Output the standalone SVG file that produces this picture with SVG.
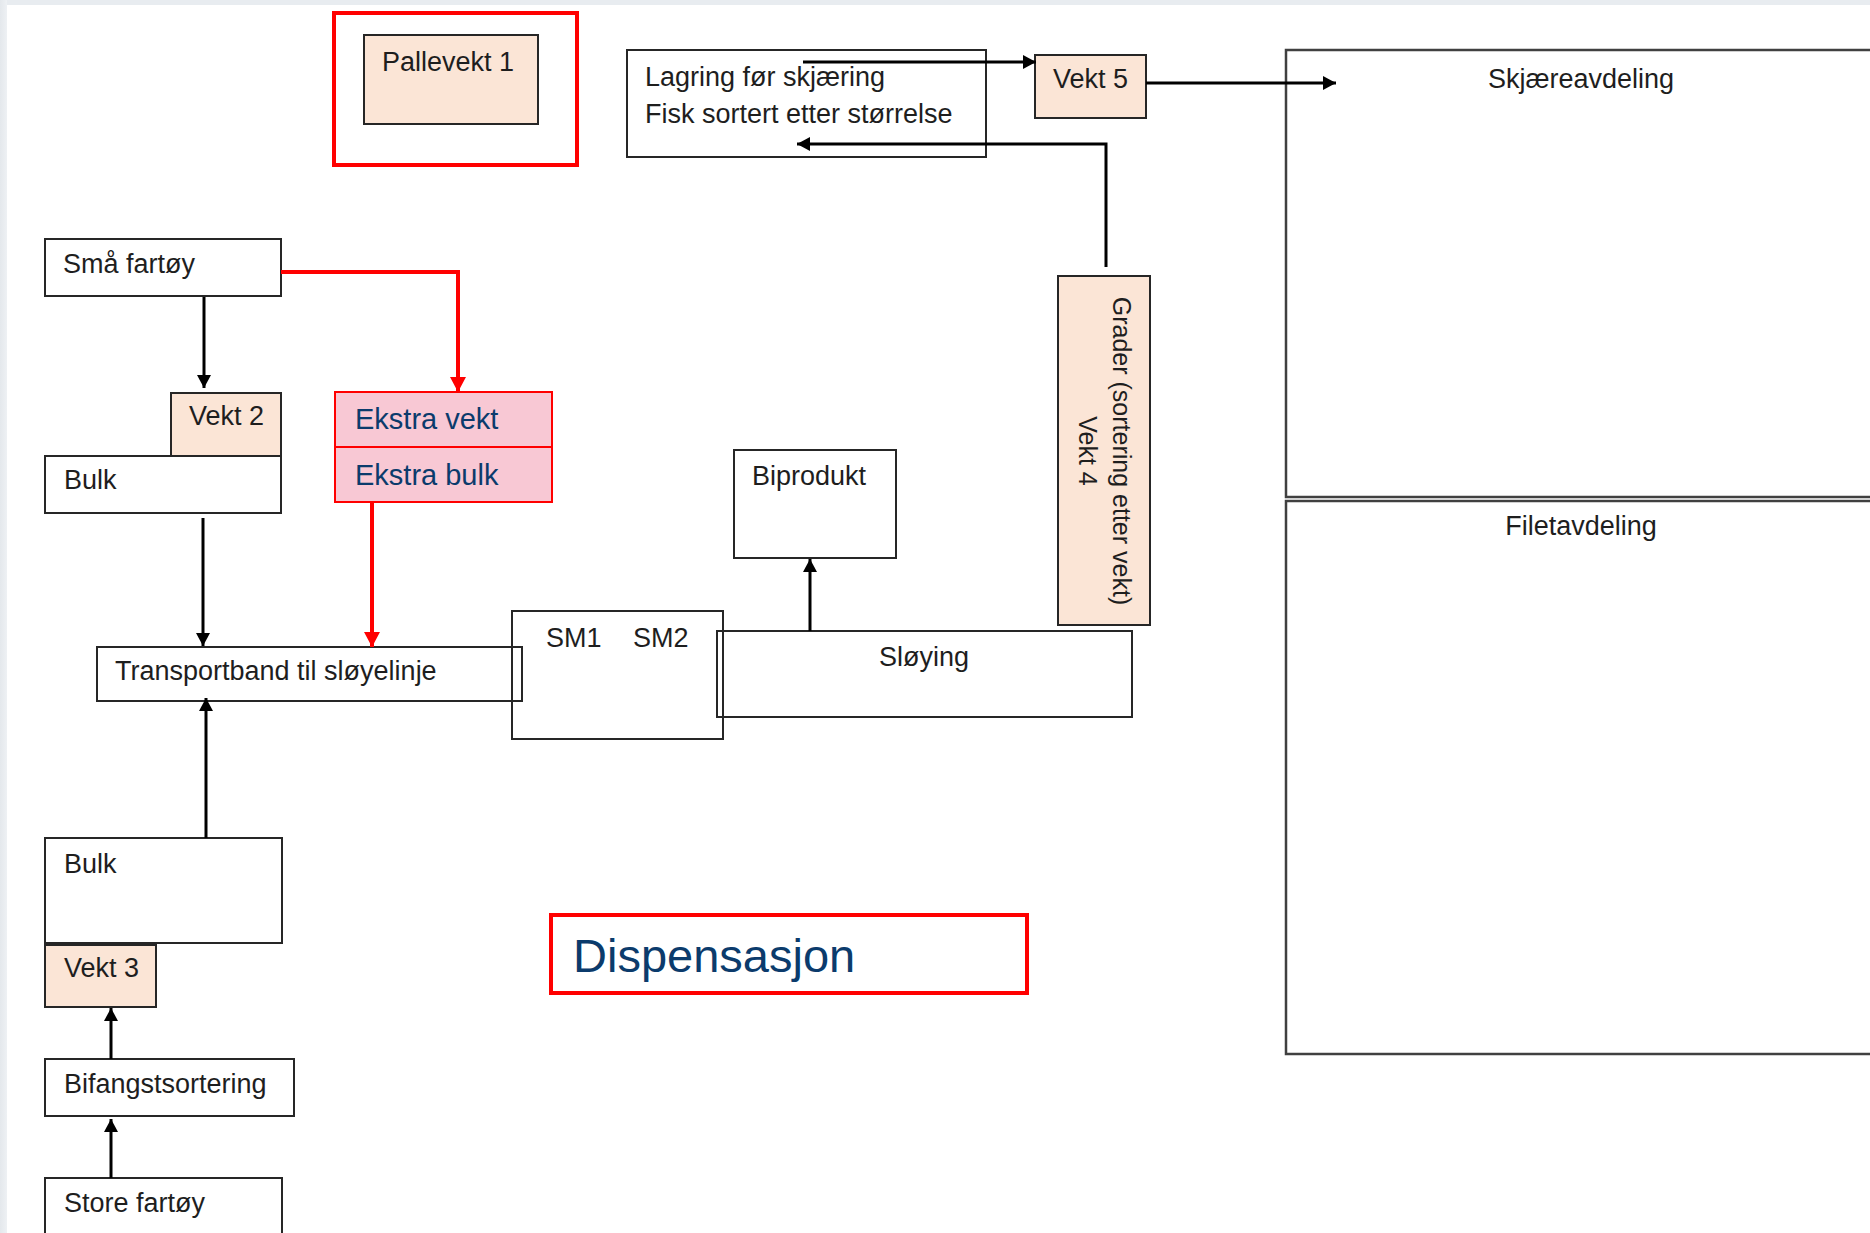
<svg xmlns="http://www.w3.org/2000/svg" width="1870" height="1233" viewBox="0 0 1870 1233">
<defs>
<style>
.box{fill:none;stroke:#262626;stroke-width:2}
.peach{fill:#fbe5d6;stroke:#262626;stroke-width:2}
.pink{fill:#f8c8d4;stroke:#ff0000;stroke-width:2}
.redframe{fill:none;stroke:#ff0000;stroke-width:4}
.dept{fill:none;stroke:#404040;stroke-width:2.5}
.lbl{font-family:"Liberation Sans",Arial,sans-serif;font-size:27px;fill:#1e1e1e}
.blue{font-family:"Liberation Sans",Arial,sans-serif;font-size:29px;fill:#0b3b6c}
.big{font-family:"Liberation Sans",Arial,sans-serif;font-size:47px;fill:#0b3b6c}
.k{fill:none;stroke:#000000;stroke-width:3}
.r{fill:none;stroke:#ff0000;stroke-width:4}
</style>
<marker id="ak" markerUnits="userSpaceOnUse" markerWidth="14" markerHeight="14" refX="13" refY="7" orient="auto">
<path d="M0,0 L13,7 L0,14 z" fill="#000000"/>
</marker>
<marker id="ar" markerUnits="userSpaceOnUse" markerWidth="16" markerHeight="16" refX="15" refY="8" orient="auto">
<path d="M0,0 L15,8 L0,16 z" fill="#ff0000"/>
</marker>
<linearGradient id="lg" x1="0" y1="0" x2="1" y2="0">
<stop offset="0" stop-color="#e4e8ec"/>
<stop offset="1" stop-color="#eef1f4"/>
</linearGradient>
</defs>

<rect x="0" y="0" width="1870" height="1233" fill="#ffffff"/>
<rect x="0" y="0" width="1870" height="5" fill="#e8ecf0"/>
<rect x="0" y="0" width="7" height="1233" fill="url(#lg)"/>

<g id="pallevekt">
<rect class="redframe" x="334" y="13" width="243" height="152"/>
<rect class="peach" x="364" y="35" width="174" height="89"/>
<text class="lbl" x="382" y="71">Pallevekt 1</text>
</g>

<g id="lagring">
<rect class="box" x="627" y="50" width="359" height="107"/>
<text class="lbl" x="645" y="86">Lagring før skjæring</text>
<text class="lbl" x="645" y="123">Fisk sortert etter størrelse</text>
</g>

<g id="vekt5">
<rect class="peach" x="1035" y="55" width="111" height="63"/>
<text class="lbl" x="1053" y="88">Vekt 5</text>
</g>

<g id="skjaere">
<rect class="dept" x="1286" y="50" width="600" height="447"/>
<text class="lbl" x="1581" y="88" text-anchor="middle">Skjæreavdeling</text>
</g>

<g id="filet">
<rect class="dept" x="1286" y="501" width="600" height="553"/>
<text class="lbl" x="1581" y="535" text-anchor="middle">Filetavdeling</text>
</g>

<g id="grader">
<rect class="peach" x="1058" y="276" width="92" height="349"/>
<text class="lbl" style="font-size:25px" transform="translate(1113,451) rotate(90)" text-anchor="middle">Grader (sortering etter vekt)</text>
<text class="lbl" style="font-size:25px" transform="translate(1079,451) rotate(90)" text-anchor="middle">Vekt 4</text>
</g>

<g id="smaa-fartoy">
<rect class="box" x="45" y="239" width="236" height="57"/>
<text class="lbl" x="63" y="273">Små fartøy</text>
</g>

<g id="vekt2">
<rect class="peach" x="171" y="393" width="110" height="63"/>
<text class="lbl" x="189" y="425">Vekt 2</text>
</g>

<g id="bulk1">
<rect class="box" x="45" y="456" width="236" height="57"/>
<text class="lbl" x="64" y="489">Bulk</text>
</g>

<g id="ekstra">
<rect class="pink" x="335" y="392" width="217" height="55"/>
<text class="blue" x="355" y="429">Ekstra vekt</text>
<rect class="pink" x="335" y="447" width="217" height="55"/>
<text class="blue" x="355" y="485">Ekstra bulk</text>
</g>

<g id="transportband">
<rect class="box" x="97" y="647" width="425" height="54"/>
<text class="lbl" x="115" y="680">Transportband til sløyelinje</text>
</g>

<g id="sm">
<rect class="box" x="512" y="611" width="211" height="128"/>
<text class="lbl" x="546" y="647">SM1</text>
<text class="lbl" x="633" y="647">SM2</text>
</g>

<g id="sloying">
<rect class="box" x="717" y="631" width="415" height="86"/>
<text class="lbl" x="924" y="666" text-anchor="middle">Sløying</text>
</g>

<g id="biprodukt">
<rect class="box" x="734" y="450" width="162" height="108"/>
<text class="lbl" x="752" y="485">Biprodukt</text>
</g>

<g id="bulk2">
<rect class="box" x="45" y="838" width="237" height="105"/>
<text class="lbl" x="64" y="873">Bulk</text>
</g>

<g id="vekt3">
<rect class="peach" x="45" y="945" width="111" height="62"/>
<text class="lbl" x="64" y="977">Vekt 3</text>
</g>

<g id="bifangst">
<rect class="box" x="45" y="1059" width="249" height="57"/>
<text class="lbl" x="64" y="1093">Bifangstsortering</text>
</g>

<g id="store-fartoy">
<rect class="box" x="45" y="1178" width="237" height="70"/>
<text class="lbl" x="64" y="1212">Store fartøy</text>
</g>

<g id="dispensasjon">
<rect class="redframe" x="551" y="915" width="476" height="78"/>
<text class="big" x="573" y="972">Dispensasjon</text>
</g>

<g id="connectors">
<path class="k" d="M204,297 V388" marker-end="url(#ak)"/>
<path class="r" d="M281,272 H458 V392" marker-end="url(#ar)"/>
<path class="k" d="M203,518 V646" marker-end="url(#ak)"/>
<path class="r" d="M372,502 V647" marker-end="url(#ar)"/>
<path class="k" d="M206,838 V698" marker-end="url(#ak)"/>
<path class="k" d="M111,1059 V1008" marker-end="url(#ak)"/>
<path class="k" d="M111,1178 V1119" marker-end="url(#ak)"/>
<path class="k" d="M810,631 V559" marker-end="url(#ak)"/>
<path class="k" d="M1106,267 V144 H797" marker-end="url(#ak)"/>
<path class="k" d="M803,62 H1036" marker-end="url(#ak)"/>
<path class="k" d="M1146,83 H1336" marker-end="url(#ak)"/>
</g>
</svg>
